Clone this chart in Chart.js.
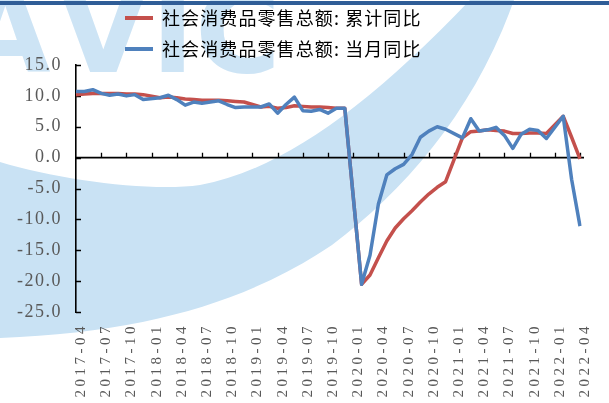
<!DOCTYPE html>
<html><head><meta charset="utf-8">
<script src="https://cdn.jsdelivr.net/npm/chart.js@4.4.1/dist/chart.umd.min.js"></script>
<style>
html,body{margin:0;padding:0;background:#fff;}
#wrap{position:relative;width:609px;height:403px;overflow:hidden;background:#fff;}
#wm{position:absolute;left:0;top:0;}
#topline{position:absolute;left:0;top:1px;width:609px;height:4px;background:#2f5d97;}
canvas{position:absolute;left:0;top:0;}
</style></head><body>
<div id="wrap">
<svg id="wm" width="609" height="403" viewBox="0 0 609 403">
  <g fill="#cde4f5" font-family="DejaVu Sans" font-weight="bold" font-size="117">
    <text x="-40" y="72">A</text><text x="58" y="72">V</text><text x="151" y="72">I</text><text x="195" y="72">C</text>
  </g>
  <path fill="#c9e2f4" d="M0,162 C60,180 150,192 200,185 C280,170 365,110 470,0 L514,0 C475,110 405,190 332,245 C250,300 150,332 0,338 Z"/>
</svg>
<div id="topline"></div><canvas id="c" width="609" height="403"></canvas></div>
<script>
const months = [
 '2017-04','2017-05','2017-06','2017-07','2017-08','2017-09','2017-10','2017-11','2017-12',
 '2018-01','2018-02','2018-03','2018-04','2018-05','2018-06','2018-07','2018-08','2018-09','2018-10','2018-11','2018-12',
 '2019-01','2019-02','2019-03','2019-04','2019-05','2019-06','2019-07','2019-08','2019-09','2019-10','2019-11','2019-12',
 '2020-01','2020-02','2020-03','2020-04','2020-05','2020-06','2020-07','2020-08','2020-09','2020-10','2020-11','2020-12',
 '2021-01','2021-02','2021-03','2021-04','2021-05','2021-06','2021-07','2021-08','2021-09','2021-10','2021-11','2021-12',
 '2022-01','2022-02','2022-03','2022-04'
];
const tickMonths = ['2017-04','2017-07','2017-10','2018-01','2018-04','2018-07','2018-10','2019-01','2019-04','2019-07','2019-10',
 '2020-01','2020-04','2020-07','2020-10','2021-01','2021-04','2021-07','2021-10','2022-01','2022-04'];
// 社会消费品零售总额: 累计同比
const cumulativeYoY = [
 10.2,10.3,10.4,10.4,10.4,10.4,10.3,10.3,10.2,
 null,9.7,9.8,9.7,9.5,9.4,9.3,9.3,9.3,9.2,9.1,9.0,
 null,8.2,8.3,8.0,8.1,8.4,8.3,8.2,8.2,8.1,8.0,8.0,
 null,-20.5,-19.0,-16.2,-13.5,-11.4,-9.9,-8.6,-7.2,-5.9,-4.8,-3.9,
 null,3.2,4.2,4.3,4.5,4.4,4.3,3.9,3.9,4.0,4.0,3.9,
 null,6.7,3.3,-0.2
];
// 社会消费品零售总额: 当月同比
const monthlyYoY = [
 10.7,10.7,11.0,10.4,10.1,10.3,10.0,10.2,9.4,
 null,9.7,10.1,9.4,8.5,9.0,8.8,9.0,9.2,8.6,8.1,8.2,
 null,8.2,8.7,7.2,8.6,9.8,7.6,7.5,7.8,7.2,8.0,8.0,
 null,-20.5,-15.8,-7.5,-2.8,-1.8,-1.1,0.5,3.3,4.3,5.0,4.6,
 null,3.2,6.3,4.3,4.5,4.9,3.6,1.5,3.8,4.6,4.4,3.1,
 null,6.7,-3.5,-11.1
];
const seriesNames = ['社会消费品零售总额: 累计同比','社会消费品零售总额: 当月同比'];
const yMin = -25, yMax = 15, yStep = 5;

const RED = '#c4504c', BLUE = '#4f81bd';

const axisDecor = {
  id: 'axisDecor',
  beforeDatasetsDraw(chart) {
    const {ctx, chartArea: a, scales: {x, y}} = chart;
    const y0 = y.getPixelForValue(0);
    ctx.save();
    ctx.strokeStyle = '#000';
    ctx.lineWidth = 1.6;
    ctx.beginPath(); ctx.moveTo(a.left, y0); ctx.lineTo(a.right + 4, y0); ctx.stroke();
    ctx.lineWidth = 1.3;
    ctx.beginPath();
    months.forEach((m, i) => {
      if (i > 0 && tickMonths.includes(m)) {
        const px = Math.round(x.getPixelForValue(i)) + 0.5;
        ctx.moveTo(px, y0); ctx.lineTo(px, y0 - 5);
      }
    });
    y.ticks.forEach(t => {
      const py = Math.round(y.getPixelForValue(t.value)) + 0.5;
      ctx.moveTo(a.left, py); ctx.lineTo(a.left + 5, py);
    });
    ctx.stroke();
    ctx.restore();
  }
};

function patchSpacing(obj, method, sp) {
  const flag = '_sp_' + method;
  if (obj[flag]) return;
  const orig = obj[method].bind(obj);
  obj[method] = function(...args) {
    const c = this.ctx;
    c.save();
    c.letterSpacing = sp;
    orig(...args);
    c.restore();
  };
  obj[flag] = true;
}

const legendPlace = {
  id: 'legendPlace',
  beforeDraw(chart) {
    const lg = chart.legend;
    lg.left = 112; lg.right = 440; lg.top = -4;
    patchSpacing(lg, 'draw', '1.1px');
    patchSpacing(chart.scales.x, 'drawLabels', '3.5px');
    patchSpacing(chart.scales.y, 'drawLabels', '1.5px');
  }
};

new Chart(document.getElementById('c'), {
  type: 'line',
  data: {
    labels: months,
    datasets: [
      {label: seriesNames[0], data: cumulativeYoY, borderColor: RED, backgroundColor: RED, borderWidth: 3.5,
       pointRadius: 0, tension: 0, spanGaps: true, order: 2, borderJoinStyle: 'round'},
      {label: seriesNames[1], data: monthlyYoY, borderColor: BLUE, backgroundColor: BLUE, borderWidth: 3.5,
       pointRadius: 0, tension: 0, spanGaps: true, order: 1, borderJoinStyle: 'round'}
    ]
  },
  options: {
    responsive: false, animation: false, devicePixelRatio: 1,
    layout: {padding: {left: 0, right: 12, top: 0, bottom: 0}},
    plugins: {
      legend: {
        display: true, position: 'top', align: 'start', maxHeight: 65, fullSize: false,
        labels: {
          boxWidth: 28, boxHeight: 4, padding: 13, color: '#3f3f3f',
          font: {family: "'Noto Sans CJK SC'", size: 18},
          sort: (a, b) => a.datasetIndex - b.datasetIndex,
          generateLabels: ch => ch.data.datasets.map((ds, i) => ({
            text: ds.label, fillStyle: ds.borderColor, strokeStyle: ds.borderColor,
            lineWidth: 0, hidden: false, datasetIndex: i
          }))
        }
      },
      tooltip: {enabled: false}
    },
    scales: {
      x: {
        type: 'category', offset: false,
        grid: {display: false, drawTicks: false},
        border: {display: false},
        ticks: {
          autoSkip: false, maxRotation: 90, minRotation: 90, padding: 11, labelOffset: 5,
          color: '#595959', font: {family: "'Liberation Serif'", size: 15},
          callback: function(v, i) { return tickMonths.includes(months[i]) ? months[i] : ''; }
        },
        afterFit: s => { s.height = 91; }
      },
      y: {
        min: yMin, max: yMax,
        ticks: {stepSize: yStep, padding: 14, color: '#595959',
          font: {family: "'Liberation Serif'", size: 18},
          callback: v => Number(v).toFixed(1)},
        grid: {display: false, drawTicks: false},
        border: {display: true, color: '#000', width: 1.6},
        afterFit: s => { s.width = 76; }
      }
    }
  },
  plugins: [axisDecor, legendPlace]
});
</script>
</body></html>
